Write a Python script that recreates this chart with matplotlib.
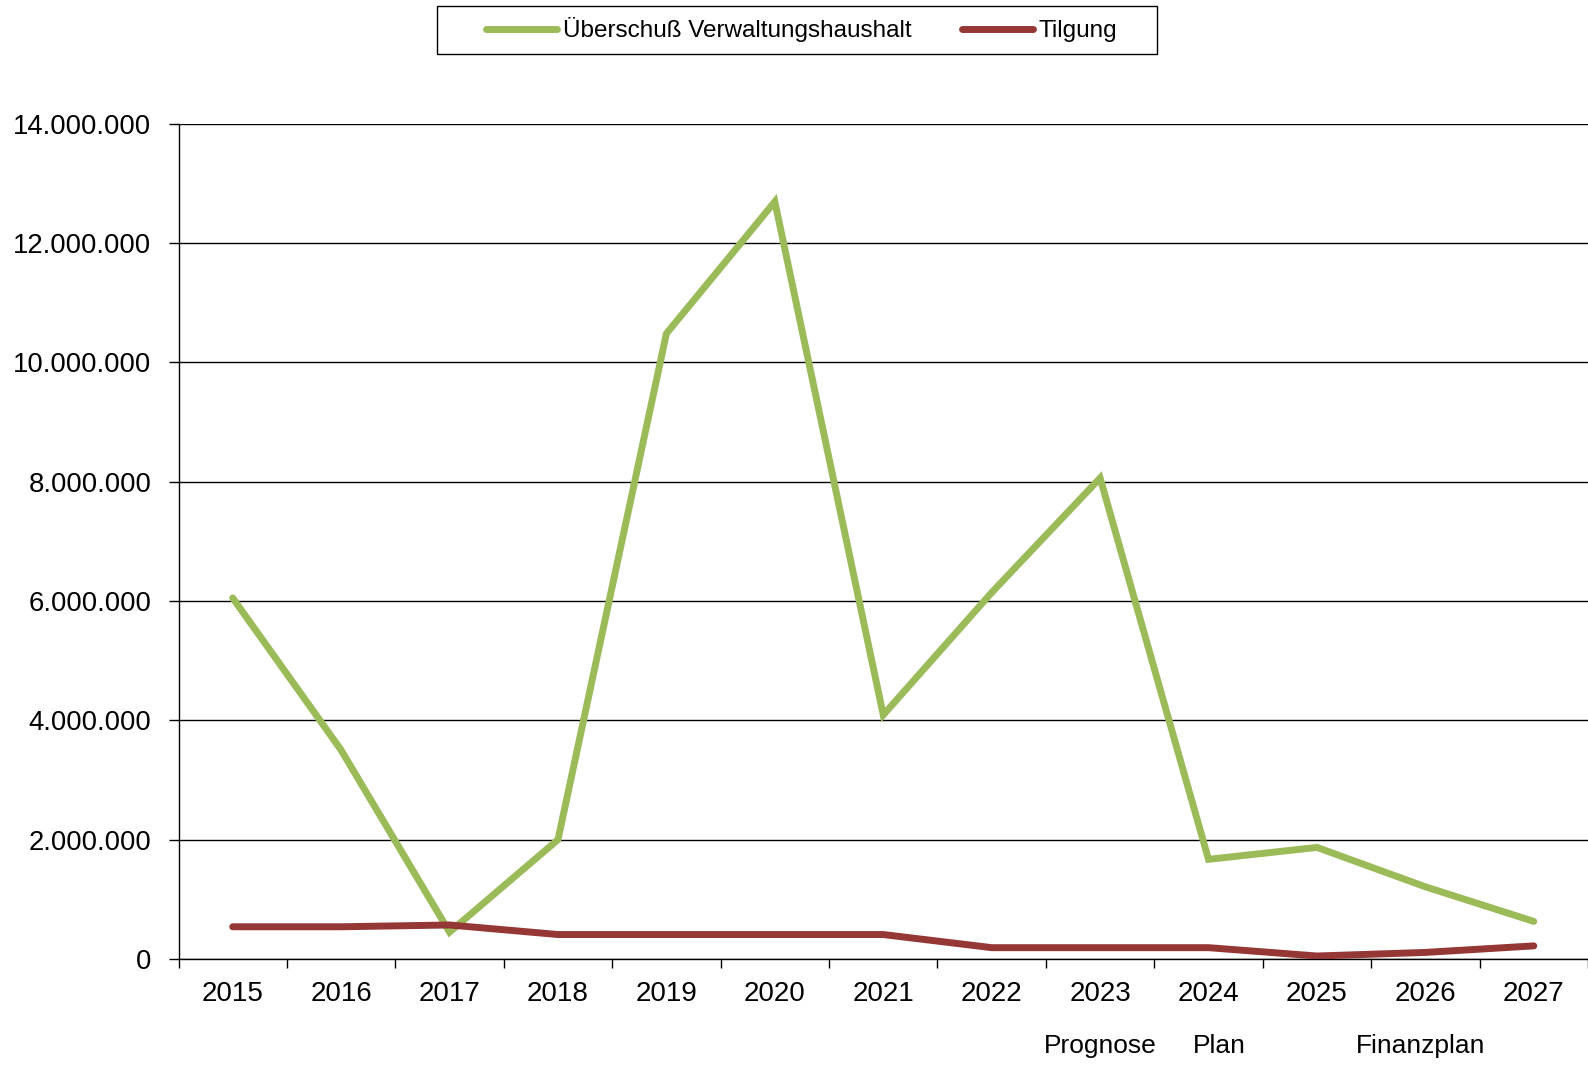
import matplotlib.pyplot as plt
from matplotlib.ticker import FuncFormatter, FixedLocator
from matplotlib.patches import Rectangle
import matplotlib.transforms as mtransforms

# data
years = ["2015", "2016", "2017", "2018", "2019", "2020", "2021",
         "2022", "2023", "2024", "2025", "2026", "2027"]
ueberschuss = [6050000, 3500000, 450000, 2000000, 10480000, 12690000, 4090000,
               6140000, 8060000, 1670000, 1870000, 1210000, 630000]
tilgung = [540000, 540000, 570000, 410000, 410000, 410000, 410000,
           190000, 190000, 190000, 50000, 110000, 220000]
notes = [("Prognose", 8), ("Plan", 9.1), ("Finanzplan", 10.96)]

plt.rcParams['font.family'] = ['Liberation Sans', 'DejaVu Sans']

W, H = 1588, 1066
fig = plt.figure(figsize=(W / 100, H / 100), dpi=100)
ax = fig.add_axes([178.5 / W, 1 - 959 / H, (W - 178.5) / W, (959 - 123.5) / H])

x = list(range(len(years)))
ax.plot(x, ueberschuss, color="#9BBB59", lw=5, solid_capstyle="round",
        solid_joinstyle="miter", label="Überschuß Verwaltungshaushalt", zorder=3)
ax.plot(x, tilgung, color="#953735", lw=5, solid_capstyle="round",
        label="Tilgung", zorder=3)

ax.set_xlim(-0.5, len(years) - 0.5)
ax.set_ylim(0, 14000000)
ax.set_yticks(range(0, 14000001, 2000000))
ax.yaxis.set_major_formatter(FuncFormatter(lambda v, p: f"{int(v):,}".replace(",", ".")))
ax.grid(axis="y", color="black", lw=1.0)
ax.set_axisbelow(True)

# boundary ticks, labels centred in the categories
ax.xaxis.set_major_locator(FixedLocator([i - 0.5 for i in range(len(years) + 1)]))
ax.xaxis.set_major_formatter(FuncFormatter(lambda v, p: ""))
ax.xaxis.set_minor_locator(FixedLocator(x))
ax.set_xticklabels(years, minor=True)
ax.tick_params(axis="x", which="major", length=6.5, width=1, direction="out", color="black")
ax.tick_params(axis="x", which="minor", length=0, pad=15.5, labelsize=20)
ax.tick_params(axis="y", length=7, width=1, direction="out", pad=12.5, labelsize=19.8)

for side in ["top", "right"]:
    ax.spines[side].set_visible(False)
for side in ["left", "bottom"]:
    ax.spines[side].set_color("black")
    ax.spines[side].set_linewidth(1.0)

trans = mtransforms.blended_transform_factory(ax.transData, ax.transAxes)
for text, pos in notes:
    ax.text(pos, -0.104, text, transform=trans, ha="center", va="center", fontsize=19)

leg = fig.legend(loc="center", bbox_to_anchor=(801.5 / W, 1 - 30 / H), ncol=2,
                 fontsize=17.5, frameon=False,
                 handlelength=2.92, handletextpad=0.25, columnspacing=2.06)
fig.patches.append(Rectangle((437 / W, 1 - 54 / H), 720 / W, 48 / H,
                             transform=fig.transFigure, fill=False,
                             edgecolor="black", lw=1.0))

fig.savefig("out.png", dpi=100)
